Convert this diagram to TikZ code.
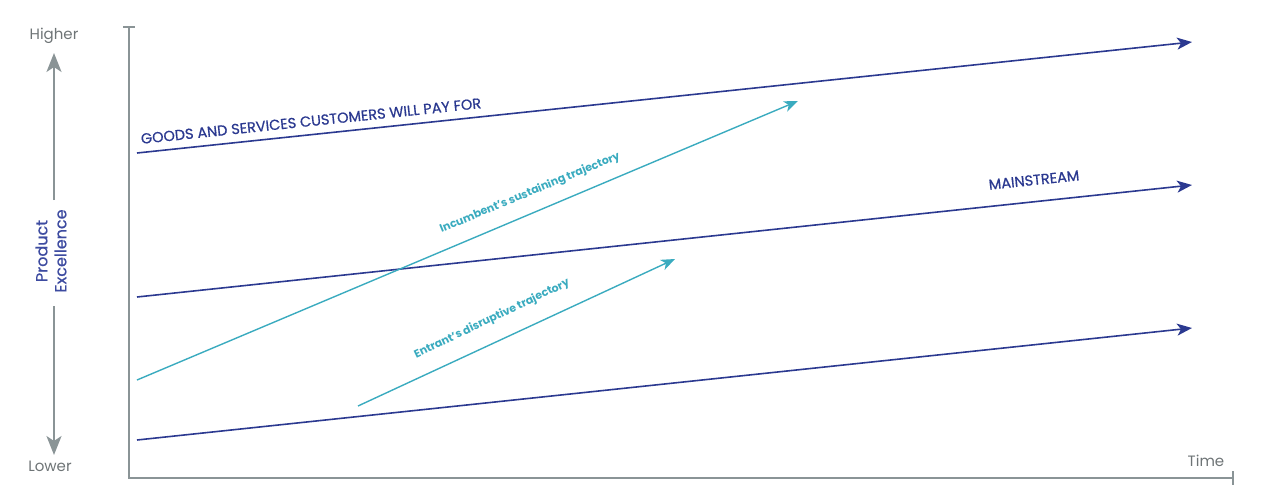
\documentclass[tikz,border=0pt]{standalone}
\usepackage{fontspec}
\setmainfont{Poppins}
\newfontfamily\labelfont{Poppins}[FakeBold=0.7]
\usetikzlibrary{arrows.meta}
\definecolor{navy}{HTML}{2B3990}
\definecolor{trajteal}{HTML}{3AABBF}
\definecolor{axisgray}{HTML}{8A9496}
\definecolor{labelgray}{HTML}{6E7476}
\definecolor{ylabel}{HTML}{3D4BA0}
\tikzset{
	market/.style={navy, line width=1.6pt, -{Stealth[length=15pt, width=12pt, inset=4pt]}},
	traj/.style={trajteal, line width=1.4pt, -{Stealth[length=14pt, width=11pt, inset=4pt]}},
	axisline/.style={axisgray, line width=2.2pt},
	scalearrow/.style={axisgray, line width=2pt, -{Stealth[length=19pt, width=15pt, inset=5pt]}},
	navytext/.style={navy, font=\labelfont\fontsize{14.5}{16}\selectfont, inner sep=0pt},
	tealtext/.style={trajteal, font=\bfseries\fontsize{11}{13}\selectfont, inner sep=0pt},
	graytext/.style={labelgray, font=\fontsize{15}{17}\selectfont, inner sep=0pt}
}
\begin{document}
\begin{tikzpicture}[x=1pt, y=-1pt]
	\useasboundingbox (0,0) rectangle (1262,501);
	% axes
	\coordinate (ytop) at (129,27);
	\coordinate (origin) at (129,478);
	\coordinate (xend) at (1233,478);
	\draw[axisline] (ytop) -- (origin) -- (xend);
	\draw[axisline] (123,27) -- (135,27);
	\draw[axisline] (1233,471) -- (1233,485);
	% y scale
	\node[graytext] (higher) at (54,36) {Higher};
	\node[graytext] (lower) at (50,466) {Lower};
	\node[ylabel, font=\labelfont\fontsize{16}{19}\selectfont, align=center, rotate=90, inner sep=0pt] (excel) at (51,251) {Product\\Excellence};
	\node[graytext] (time) at (1206,461) {Time};
	\coordinate (upA) at (54,200);
	\coordinate (upB) at (54,53);
	\coordinate (dnA) at (54,306);
	\coordinate (dnB) at (54,455);
	\draw[scalearrow] (upA) -- (upB);
	\draw[scalearrow] (dnA) -- (dnB);
	% markets
	\coordinate (gsA) at (137,153);
	\coordinate (gsB) at (1192,42);
	\coordinate (msA) at (137,297);
	\coordinate (msB) at (1192,185);
	\coordinate (loA) at (137,440);
	\coordinate (loB) at (1192,328);
	\foreach \a/\b in {gsA/gsB, msA/msB, loA/loB} {
		\draw[market] (\a) -- (\b);
	}
	% trajectories
	\coordinate (incA) at (137,380);
	\coordinate (incB) at (798,101);
	\coordinate (entA) at (358,406);
	\coordinate (entB) at (675,259);
	\draw[traj] (incA) -- (incB);
	\draw[traj] (entA) -- (entB);
	\node[navytext, rotate=6] (goods) at (311,121) {GOODS AND SERVICES CUSTOMERS WILL PAY FOR};
	\node[navytext, rotate=6] (mainstream) at (1034,180) {MAINSTREAM};
	\node[tealtext, rotate=22.5] (incumbent) at (530,193) {Incumbent's sustaining trajectory};
	\node[tealtext, rotate=25.5] (entrant) at (492,319) {Entrant's disruptive trajectory};
\end{tikzpicture}
\end{document}
